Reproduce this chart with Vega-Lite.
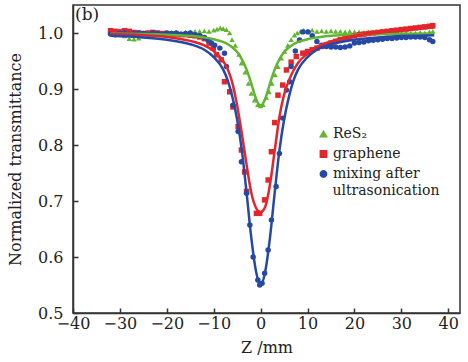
{
  "$schema": "https://vega.github.io/schema/vega-lite/v6.json",
  "width": 387,
  "height": 308,
  "autosize": {"type": "none"},
  "padding": {"left": 73, "top": 5, "right": 8, "bottom": 49},
  "config": {
    "view": {"stroke": "#333", "strokeWidth": 1.5},
    "font": "DejaVu Serif",
    "axis": {
      "domainColor": "#333", "domainWidth": 1.5, "tickColor": "#333", "tickWidth": 1.5,
      "tickSize": -5, "grid": false, "labelFont": "DejaVu Serif", "labelFontSize": 16,
      "labelColor": "#222", "titleFont": "DejaVu Serif", "titleFontSize": 16,
      "titleFontWeight": "normal", "titleColor": "#222", "labelFlush": false, "labelOverlap": false
    }
  },
  "datasets": {
    "pts": [
      {"s":"ReS₂","z":-32,"t":1.002},{"s":"ReS₂","z":-31,"t":1.0},{"s":"ReS₂","z":-30,"t":0.998},{"s":"ReS₂","z":-29,"t":0.995},{"s":"ReS₂","z":-28,"t":0.99},{"s":"ReS₂","z":-27,"t":0.989},{"s":"ReS₂","z":-26,"t":0.991},{"s":"ReS₂","z":-25,"t":0.995},{"s":"ReS₂","z":-24,"t":0.998},{"s":"ReS₂","z":-23,"t":1.0},{"s":"ReS₂","z":-22,"t":1.0},{"s":"ReS₂","z":-21,"t":0.999},{"s":"ReS₂","z":-20,"t":1.0},{"s":"ReS₂","z":-19,"t":1.001},{"s":"ReS₂","z":-18,"t":1.0},{"s":"ReS₂","z":-17,"t":1.0},{"s":"ReS₂","z":-16,"t":1.001},{"s":"ReS₂","z":-15,"t":1.002},{"s":"ReS₂","z":-14,"t":1.003},{"s":"ReS₂","z":-13,"t":1.003},{"s":"ReS₂","z":-12,"t":1.004},{"s":"ReS₂","z":-11,"t":1.003},{"s":"ReS₂","z":-10,"t":1.005},{"s":"ReS₂","z":-9.3,"t":1.007},{"s":"ReS₂","z":-8.6,"t":1.009},{"s":"ReS₂","z":-8,"t":1.008},{"s":"ReS₂","z":-7.3,"t":1.006},{"s":"ReS₂","z":-6.6,"t":1.0},{"s":"ReS₂","z":-6.1,"t":0.988},{"s":"ReS₂","z":-5.4,"t":0.978},{"s":"ReS₂","z":-4.6,"t":0.962},{"s":"ReS₂","z":-4.1,"t":0.946},{"s":"ReS₂","z":-3.3,"t":0.93},{"s":"ReS₂","z":-2.6,"t":0.91},{"s":"ReS₂","z":-2.0,"t":0.892},{"s":"ReS₂","z":-1.3,"t":0.88},{"s":"ReS₂","z":-0.6,"t":0.872},{"s":"ReS₂","z":0,"t":0.87},{"s":"ReS₂","z":0.5,"t":0.872},{"s":"ReS₂","z":1.2,"t":0.885},{"s":"ReS₂","z":1.8,"t":0.895},{"s":"ReS₂","z":2.4,"t":0.91},{"s":"ReS₂","z":3.1,"t":0.925},{"s":"ReS₂","z":3.7,"t":0.94},{"s":"ReS₂","z":4.4,"t":0.955},{"s":"ReS₂","z":5.1,"t":0.967},{"s":"ReS₂","z":5.8,"t":0.978},{"s":"ReS₂","z":6.5,"t":0.988},{"s":"ReS₂","z":7.2,"t":0.996},{"s":"ReS₂","z":7.8,"t":1.0},{"s":"ReS₂","z":8.5,"t":1.003},{"s":"ReS₂","z":9.2,"t":1.005},{"s":"ReS₂","z":10,"t":1.004},{"s":"ReS₂","z":11,"t":1.005},{"s":"ReS₂","z":12,"t":1.003},{"s":"ReS₂","z":13,"t":1.004},{"s":"ReS₂","z":14,"t":1.003},{"s":"ReS₂","z":15,"t":1.004},{"s":"ReS₂","z":16,"t":1.003},{"s":"ReS₂","z":17,"t":1.003},{"s":"ReS₂","z":18,"t":1.002},{"s":"ReS₂","z":19,"t":1.003},{"s":"ReS₂","z":20,"t":1.002},{"s":"ReS₂","z":21,"t":1.002},{"s":"ReS₂","z":22,"t":1.001},{"s":"ReS₂","z":23,"t":1.002},{"s":"ReS₂","z":24,"t":1.001},{"s":"ReS₂","z":25,"t":1.0},{"s":"ReS₂","z":26,"t":1.001},{"s":"ReS₂","z":27,"t":1.0},{"s":"ReS₂","z":28,"t":1.001},{"s":"ReS₂","z":29,"t":1.0},{"s":"ReS₂","z":30,"t":1.0},{"s":"ReS₂","z":31,"t":1.001},{"s":"ReS₂","z":32,"t":1.0},{"s":"ReS₂","z":33,"t":1.0},{"s":"ReS₂","z":34,"t":1.001},{"s":"ReS₂","z":35,"t":1.0},{"s":"ReS₂","z":36,"t":1.002},{"s":"ReS₂","z":36.7,"t":1.003},
      {"s":"graphene","z":-32,"t":1.004},{"s":"graphene","z":-31,"t":1.003},{"s":"graphene","z":-30,"t":1.002},{"s":"graphene","z":-29,"t":1.004},{"s":"graphene","z":-28,"t":1.003},{"s":"graphene","z":-27,"t":1.001},{"s":"graphene","z":-26,"t":1.0},{"s":"graphene","z":-25,"t":0.999},{"s":"graphene","z":-24,"t":1.0},{"s":"graphene","z":-23,"t":1.001},{"s":"graphene","z":-22,"t":1.0},{"s":"graphene","z":-21,"t":0.999},{"s":"graphene","z":-20,"t":0.999},{"s":"graphene","z":-19,"t":0.998},{"s":"graphene","z":-18,"t":0.998},{"s":"graphene","z":-17,"t":0.997},{"s":"graphene","z":-16,"t":0.997},{"s":"graphene","z":-15,"t":0.996},{"s":"graphene","z":-14,"t":0.995},{"s":"graphene","z":-13,"t":0.993},{"s":"graphene","z":-12,"t":0.99},{"s":"graphene","z":-11,"t":0.982},{"s":"graphene","z":-10.1,"t":0.973},{"s":"graphene","z":-9.4,"t":0.961},{"s":"graphene","z":-8.4,"t":0.952},{"s":"graphene","z":-7.7,"t":0.913},{"s":"graphene","z":-6.6,"t":0.895},{"s":"graphene","z":-5.9,"t":0.868},{"s":"graphene","z":-4.8,"t":0.833},{"s":"graphene","z":-4.1,"t":0.791},{"s":"graphene","z":-3.4,"t":0.752},{"s":"graphene","z":-3.0,"t":0.717},{"s":"graphene","z":-0.9,"t":0.678},{"s":"graphene","z":-0.2,"t":0.678},{"s":"graphene","z":0.85,"t":0.702},{"s":"graphene","z":1.6,"t":0.7375},{"s":"graphene","z":2.3,"t":0.788},{"s":"graphene","z":3.0,"t":0.84},{"s":"graphene","z":3.7,"t":0.889},{"s":"graphene","z":4.7,"t":0.907},{"s":"graphene","z":5.5,"t":0.934},{"s":"graphene","z":6.5,"t":0.948},{"s":"graphene","z":7.6,"t":0.958},{"s":"graphene","z":9.0,"t":0.964},{"s":"graphene","z":10,"t":0.967},{"s":"graphene","z":11,"t":0.97},{"s":"graphene","z":12,"t":0.973},{"s":"graphene","z":13,"t":0.976},{"s":"graphene","z":14,"t":0.979},{"s":"graphene","z":15,"t":0.982},{"s":"graphene","z":16,"t":0.985},{"s":"graphene","z":17,"t":0.988},{"s":"graphene","z":18,"t":0.99},{"s":"graphene","z":19,"t":0.992},{"s":"graphene","z":20,"t":0.995},{"s":"graphene","z":21,"t":0.997},{"s":"graphene","z":22,"t":0.998},{"s":"graphene","z":23,"t":0.999},{"s":"graphene","z":24,"t":1.0},{"s":"graphene","z":25,"t":1.001},{"s":"graphene","z":26,"t":1.002},{"s":"graphene","z":27,"t":1.003},{"s":"graphene","z":28,"t":1.004},{"s":"graphene","z":29,"t":1.005},{"s":"graphene","z":30,"t":1.006},{"s":"graphene","z":31,"t":1.007},{"s":"graphene","z":32,"t":1.008},{"s":"graphene","z":33,"t":1.009},{"s":"graphene","z":34,"t":1.01},{"s":"graphene","z":35,"t":1.011},{"s":"graphene","z":36,"t":1.012},{"s":"graphene","z":36.7,"t":1.013},
      {"s":"mixing after ultrasonication","z":-32,"t":0.998},{"s":"mixing after ultrasonication","z":-31,"t":0.997},{"s":"mixing after ultrasonication","z":-30,"t":0.999},{"s":"mixing after ultrasonication","z":-29,"t":1.0},{"s":"mixing after ultrasonication","z":-28,"t":0.998},{"s":"mixing after ultrasonication","z":-27,"t":0.999},{"s":"mixing after ultrasonication","z":-26,"t":1.0},{"s":"mixing after ultrasonication","z":-25,"t":0.999},{"s":"mixing after ultrasonication","z":-24,"t":0.998},{"s":"mixing after ultrasonication","z":-23,"t":1.0},{"s":"mixing after ultrasonication","z":-22,"t":0.999},{"s":"mixing after ultrasonication","z":-21,"t":0.998},{"s":"mixing after ultrasonication","z":-20,"t":1.0},{"s":"mixing after ultrasonication","z":-19,"t":0.999},{"s":"mixing after ultrasonication","z":-18,"t":1.0},{"s":"mixing after ultrasonication","z":-17,"t":0.998},{"s":"mixing after ultrasonication","z":-16,"t":0.999},{"s":"mixing after ultrasonication","z":-15,"t":1.0},{"s":"mixing after ultrasonication","z":-14,"t":0.997},{"s":"mixing after ultrasonication","z":-13,"t":0.995},{"s":"mixing after ultrasonication","z":-12,"t":0.992},{"s":"mixing after ultrasonication","z":-11.2,"t":0.987},{"s":"mixing after ultrasonication","z":-10.5,"t":0.982},{"s":"mixing after ultrasonication","z":-9.8,"t":0.978},{"s":"mixing after ultrasonication","z":-8.7,"t":0.973},{"s":"mixing after ultrasonication","z":-7.7,"t":0.964},{"s":"mixing after ultrasonication","z":-7.3,"t":0.94},{"s":"mixing after ultrasonication","z":-5.9,"t":0.871},{"s":"mixing after ultrasonication","z":-4.8,"t":0.824},{"s":"mixing after ultrasonication","z":-4.1,"t":0.77},{"s":"mixing after ultrasonication","z":-3.0,"t":0.714},{"s":"mixing after ultrasonication","z":-2.3,"t":0.657},{"s":"mixing after ultrasonication","z":-1.6,"t":0.6},{"s":"mixing after ultrasonication","z":-0.6,"t":0.559},{"s":"mixing after ultrasonication","z":-0.2,"t":0.55},{"s":"mixing after ultrasonication","z":0.3,"t":0.553},{"s":"mixing after ultrasonication","z":0.85,"t":0.571},{"s":"mixing after ultrasonication","z":1.6,"t":0.6125},{"s":"mixing after ultrasonication","z":2.3,"t":0.666},{"s":"mixing after ultrasonication","z":3.3,"t":0.726},{"s":"mixing after ultrasonication","z":4.0,"t":0.785},{"s":"mixing after ultrasonication","z":4.7,"t":0.848},{"s":"mixing after ultrasonication","z":5.5,"t":0.898},{"s":"mixing after ultrasonication","z":6.2,"t":0.913},{"s":"mixing after ultrasonication","z":6.5,"t":0.94},{"s":"mixing after ultrasonication","z":7.4,"t":0.968},{"s":"mixing after ultrasonication","z":8.3,"t":0.9875},{"s":"mixing after ultrasonication","z":9.0,"t":1.002},{"s":"mixing after ultrasonication","z":10.1,"t":1.002},{"s":"mixing after ultrasonication","z":11,"t":0.995},{"s":"mixing after ultrasonication","z":12,"t":0.985},{"s":"mixing after ultrasonication","z":13,"t":0.978},{"s":"mixing after ultrasonication","z":14,"t":0.976},{"s":"mixing after ultrasonication","z":15,"t":0.975},{"s":"mixing after ultrasonication","z":16,"t":0.975},{"s":"mixing after ultrasonication","z":17,"t":0.974},{"s":"mixing after ultrasonication","z":18,"t":0.975},{"s":"mixing after ultrasonication","z":19,"t":0.977},{"s":"mixing after ultrasonication","z":20,"t":0.982},{"s":"mixing after ultrasonication","z":21,"t":0.983},{"s":"mixing after ultrasonication","z":22,"t":0.984},{"s":"mixing after ultrasonication","z":23,"t":0.986},{"s":"mixing after ultrasonication","z":24,"t":0.987},{"s":"mixing after ultrasonication","z":25,"t":0.988},{"s":"mixing after ultrasonication","z":26,"t":0.989},{"s":"mixing after ultrasonication","z":27,"t":0.99},{"s":"mixing after ultrasonication","z":28,"t":0.99},{"s":"mixing after ultrasonication","z":29,"t":0.991},{"s":"mixing after ultrasonication","z":30,"t":0.992},{"s":"mixing after ultrasonication","z":31,"t":0.992},{"s":"mixing after ultrasonication","z":32,"t":0.993},{"s":"mixing after ultrasonication","z":33,"t":0.993},{"s":"mixing after ultrasonication","z":34,"t":0.993},{"s":"mixing after ultrasonication","z":35,"t":0.992},{"s":"mixing after ultrasonication","z":36,"t":0.988},{"s":"mixing after ultrasonication","z":36.7,"t":0.985}
    ],
    "fit": [
      {"s":"ReS₂","z":-32,"t":0.999},{"s":"ReS₂","z":-20,"t":0.997},{"s":"ReS₂","z":-15,"t":0.995},{"s":"ReS₂","z":-12,"t":0.992},{"s":"ReS₂","z":-10,"t":0.989},{"s":"ReS₂","z":-8,"t":0.984},{"s":"ReS₂","z":-7,"t":0.98},{"s":"ReS₂","z":-6,"t":0.974},{"s":"ReS₂","z":-5,"t":0.966},{"s":"ReS₂","z":-4,"t":0.953},{"s":"ReS₂","z":-3,"t":0.935},{"s":"ReS₂","z":-2,"t":0.91},{"s":"ReS₂","z":-1,"t":0.883},{"s":"ReS₂","z":-0.5,"t":0.874},{"s":"ReS₂","z":0,"t":0.87},{"s":"ReS₂","z":0.5,"t":0.874},{"s":"ReS₂","z":1,"t":0.883},{"s":"ReS₂","z":2,"t":0.91},{"s":"ReS₂","z":3,"t":0.935},{"s":"ReS₂","z":4,"t":0.953},{"s":"ReS₂","z":5,"t":0.966},{"s":"ReS₂","z":6,"t":0.974},{"s":"ReS₂","z":7,"t":0.98},{"s":"ReS₂","z":8,"t":0.984},{"s":"ReS₂","z":10,"t":0.989},{"s":"ReS₂","z":12,"t":0.992},{"s":"ReS₂","z":15,"t":0.995},{"s":"ReS₂","z":20,"t":0.997},{"s":"ReS₂","z":37,"t":0.999},
      {"s":"graphene","z":-32,"t":0.998},{"s":"graphene","z":-25,"t":0.996},{"s":"graphene","z":-20,"t":0.993},{"s":"graphene","z":-15,"t":0.986},{"s":"graphene","z":-12,"t":0.978},{"s":"graphene","z":-10,"t":0.968},{"s":"graphene","z":-8,"t":0.95},{"s":"graphene","z":-7,"t":0.935},{"s":"graphene","z":-6,"t":0.91},{"s":"graphene","z":-5,"t":0.87},{"s":"graphene","z":-4,"t":0.82},{"s":"graphene","z":-3,"t":0.765},{"s":"graphene","z":-2,"t":0.715},{"s":"graphene","z":-1,"t":0.688},{"s":"graphene","z":0,"t":0.68},{"s":"graphene","z":1,"t":0.69},{"s":"graphene","z":2,"t":0.73},{"s":"graphene","z":3,"t":0.79},{"s":"graphene","z":4,"t":0.85},{"s":"graphene","z":5,"t":0.89},{"s":"graphene","z":6,"t":0.915},{"s":"graphene","z":7,"t":0.933},{"s":"graphene","z":8,"t":0.947},{"s":"graphene","z":10,"t":0.963},{"s":"graphene","z":12,"t":0.975},{"s":"graphene","z":15,"t":0.985},{"s":"graphene","z":20,"t":0.995},{"s":"graphene","z":25,"t":1.0},{"s":"graphene","z":30,"t":1.005},{"s":"graphene","z":37,"t":1.01},
      {"s":"mixing after ultrasonication","z":-32,"t":0.995},{"s":"mixing after ultrasonication","z":-25,"t":0.992},{"s":"mixing after ultrasonication","z":-20,"t":0.988},{"s":"mixing after ultrasonication","z":-15,"t":0.98},{"s":"mixing after ultrasonication","z":-12,"t":0.97},{"s":"mixing after ultrasonication","z":-10,"t":0.957},{"s":"mixing after ultrasonication","z":-8,"t":0.935},{"s":"mixing after ultrasonication","z":-7,"t":0.915},{"s":"mixing after ultrasonication","z":-6,"t":0.885},{"s":"mixing after ultrasonication","z":-5,"t":0.845},{"s":"mixing after ultrasonication","z":-4,"t":0.79},{"s":"mixing after ultrasonication","z":-3,"t":0.715},{"s":"mixing after ultrasonication","z":-2,"t":0.635},{"s":"mixing after ultrasonication","z":-1,"t":0.575},{"s":"mixing after ultrasonication","z":0,"t":0.55},{"s":"mixing after ultrasonication","z":1,"t":0.575},{"s":"mixing after ultrasonication","z":2,"t":0.635},{"s":"mixing after ultrasonication","z":3,"t":0.715},{"s":"mixing after ultrasonication","z":4,"t":0.79},{"s":"mixing after ultrasonication","z":5,"t":0.845},{"s":"mixing after ultrasonication","z":6,"t":0.885},{"s":"mixing after ultrasonication","z":7,"t":0.915},{"s":"mixing after ultrasonication","z":8,"t":0.935},{"s":"mixing after ultrasonication","z":10,"t":0.957},{"s":"mixing after ultrasonication","z":12,"t":0.97},{"s":"mixing after ultrasonication","z":15,"t":0.98},{"s":"mixing after ultrasonication","z":20,"t":0.988},{"s":"mixing after ultrasonication","z":25,"t":0.992},{"s":"mixing after ultrasonication","z":32,"t":0.995},{"s":"mixing after ultrasonication","z":37,"t":0.996}
    ],
    "notes": [
      {"label":"(b)","z":-40,"t":1.05},
      {"label":"ultrasonication","z":15.3,"t":0.718}
    ]
  },
  "layer": [
    {
      "data": {"name": "pts"},
      "mark": {"type": "point", "filled": true, "opacity": 1, "size": 30},
      "encoding": {
        "x": {"field": "z", "type": "quantitative",
          "scale": {"domain": [-40, 42.5], "nice": false, "zero": false},
          "axis": {"values": [-40,-30,-20,-10,0,10,20,30,40], "title": "Z /mm", "labelPadding": 7, "titlePadding": 8}},
        "y": {"field": "t", "type": "quantitative",
          "scale": {"domain": [0.5, 1.05], "nice": false, "zero": false},
          "axis": {"values": [0.5,0.6,0.7,0.8,0.9,1.0], "format": ".1f", "title": "Normalized transmittance", "labelPadding": 15, "titlePadding": 14}},
        "color": {"field": "s", "type": "nominal",
          "scale": {"domain": ["ReS₂","graphene","mixing after ultrasonication"], "range": ["#62b530","#e3262c","#2749a6"]},
          "legend": {"title": null, "orient": "none", "legendX": 243.5, "legendY": 122, "padding": 0,
            "labelFont": "DejaVu Serif", "labelFontSize": 14, "labelColor": "#222", "labelOffset": 2.5,
            "rowPadding": 6, "symbolSize": 40, "labelLimit": 300,
            "labelExpr": "datum.label == 'mixing after ultrasonication' ? 'mixing after' : datum.label"}},
        "shape": {"field": "s", "type": "nominal",
          "scale": {"domain": ["ReS₂","graphene","mixing after ultrasonication"], "range": ["triangle-up","square","circle"]}}
      }
    },
    {
      "data": {"name": "fit"},
      "mark": {"type": "line", "strokeWidth": 2.5, "interpolate": "monotone"},
      "encoding": {
        "x": {"field": "z", "type": "quantitative"},
        "y": {"field": "t", "type": "quantitative"},
        "color": {"field": "s", "type": "nominal", "legend": null},
        "order": {"field": "z", "type": "quantitative"}
      }
    },
    {
      "data": {"name": "notes"},
      "transform": [{"filter": "datum.label == '(b)'"}],
      "mark": {"type": "text", "align": "left", "baseline": "top", "dx": 2, "dy": 2, "fontSize": 17, "font": "DejaVu Serif", "color": "#222"},
      "encoding": {
        "x": {"field": "z", "type": "quantitative"},
        "y": {"field": "t", "type": "quantitative"},
        "text": {"field": "label"}
      }
    },
    {
      "data": {"name": "notes"},
      "transform": [{"filter": "datum.label == 'ultrasonication'"}],
      "mark": {"type": "text", "align": "left", "baseline": "middle", "fontSize": 14, "font": "DejaVu Serif", "color": "#222"},
      "encoding": {
        "x": {"field": "z", "type": "quantitative"},
        "y": {"field": "t", "type": "quantitative"},
        "text": {"field": "label"}
      }
    }
  ]
}
